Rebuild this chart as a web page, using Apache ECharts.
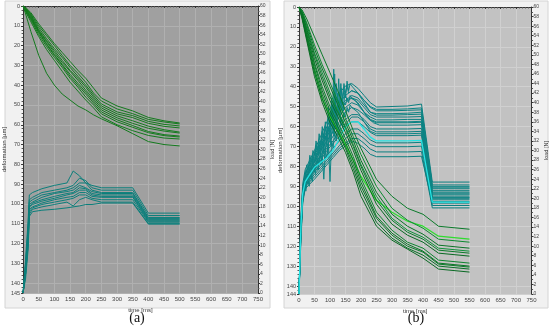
<!DOCTYPE html>
<html><head><meta charset="utf-8">
<script src="https://cdn.jsdelivr.net/npm/echarts@6/dist/echarts.min.js"></script>
<style>html,body{margin:0;padding:0;background:#fff}#c{width:550px;height:326px}</style>
</head><body><div id="c"></div>
<script>
// ---------- Panel (a) ----------
const A_TIME_DEF = [0,10,25,50,75,100,125,150,175,200,225,250,300,350,400,450,500];
const A_DEF = [
[0,1,3.4,9,14,19,23.5,28,32.5,36.5,41.5,46.5,50.5,53,56.3,58,59.1],
[0,1.5,4,10,15,20,25,30,34,38.5,44,48,52,54.4,57.3,58.6,59.6],
[0,1.5,4.5,11,16.5,21.5,26,31,35.5,40,45,49.5,53.5,55.4,58.3,59.8,60.6],
[0,2,5,12,17.5,22.5,27.5,32.5,36.5,41,46,50.5,54.5,56.4,59.3,60.8,61.6],
[0,2,5.5,12.5,18,23.5,28.5,33,37.5,42.5,47,51.5,55.5,58,60.7,62.5,63.7],
[0,2.5,6,13,19,24.5,29.5,34.5,39,43.5,48,52.5,56.5,59.3,61.8,63.2,64.2],
[0,2.5,6.5,13.5,19.5,25,30,35.5,40,44.5,49,53.5,57.5,60.4,63.4,65,65.7],
[0,3,7,14.5,20.5,26,31,36.5,41,46,50,54.5,58.5,61.3,64,65.5,66.2],
[0,3.5,8,15.5,22,27.5,33,38.5,43,47.5,51.5,56,60,63,65.4,66.7,67.2],
[0,5,13,25,34,40,44.5,47.5,50.5,52.5,55,57,60.5,64.5,68.5,70,70.7]
];
const A_TIME_F = [0,8,16,20,30,60,100,140,160,180,200,220,250,350,400,500];
const A_FORCE = [
[0,7,15,20.5,21,21.8,22.5,23,25.5,24.5,23,22.5,22,22,16.7,16.7],
[0,6,14,19.5,20,21,21.5,22,22.5,24,23.5,22,21.5,21.5,16.2,16.2],
[0,6,13,19,19.5,20.5,21,21.5,22,23,23,21.5,21,21,15.8,15.8],
[0,5,12,18.5,19,20,20.8,21.2,21.5,22.5,22,21.2,20.8,20.8,15.6,15.6],
[0,5,12,18,18.8,19.5,20.2,20.8,21,22,21.8,20.8,20.5,20.5,15.4,15.4],
[0,5,11,18,18.5,19.2,19.8,20.5,20.8,21.5,21.5,20.5,20.2,20.2,15.2,15.2],
[0,4,11,17.5,18,18.8,19.5,20,20.2,21,21,20.2,20,20,15,15],
[0,4,10,17,17.8,18.5,19,19.5,19.8,20.5,20.5,19.8,19.5,19.5,14.8,14.8],
[0,4,10,16.5,17.5,18,18.5,19,18.2,19.5,20,19.5,19,19,14.5,14.5],
[0,3,9,16,17,17.3,17.5,17.8,18,18.2,18.5,18.5,18.8,18.8,14.4,14.4]
];
// ---------- Panel (b) ----------
const B_TIME_DEF = [0,10,25,50,75,100,125,150,175,200,250,300,350,400,450,550];
const B_DEF = [
[0,1.5,6,15,24,33,42,52,62,71,86.5,95,101,104,110,111.5],
[0,5,15,32,46,55,62,69,77,85,97,103,107.5,110,115,116.5],
[0,2,8,19,29,38,47,56,65,74,90,101,107,111,116.5,118],
[0,2.5,9,21,31,40,49,58,67,77,93,104,110,114,119.5,121],
[0,3,10,23,33,43,52,60,69,79,95,106,112,115.5,121,122.5],
[0,3,11,24,35,45,53,61,70,80,97,107,113,116.5,122,123.5],
[0,3.5,12,26,37,47,55,63,72,82,99,109,114.5,118,123.5,125],
[0,4,13,28,40,50,58,66,75,86,103,112,118,121,127,128.5],
[0,4,14,29,42,52,60,68,77,88,105,113.5,119,122.5,128.5,130],
[0,4.5,15,31,44,54,62,70,79,90,106,114.5,120,123,129,130.5],
[0,5,16,33,46,56,63,71,81,92,108,116,121,124.5,130,131.5],
[0,6,17,35,48,58,65,73,83,95,110,117,121.5,126,131.5,133]
];
const B_DEF_COLORS = ['#0b7a2a','#2fdc2f','#0d8a30','#0a7326','#10903a','#0b7a2a','#086a22','#0e8530','#0a7326','#0b7a2a','#087028','#0a6a24'];
const B_TIME_F = [0,6,12,20,35,50,70,90,110,130,150,170,190,210,230,250,300,350,395,430,550];
const B_FORCE = [
[0,16,23,26,28,30,33,36,39,42,43.5,44,43,41.5,40,39.1,39.2,39.3,39.7,23.4,23.4],
[0,15,22,25,27.5,29.5,32,35,37.5,40,41.5,42.5,42,40.5,39,38.3,38.3,38.4,38.5,22.8,22.8],
[0,15,22,25,27,29,31.5,34,36.5,39,40.5,41.5,41,39.5,38,37.4,37.4,37.5,37.6,22.2,22.2],
[0,14,21.5,24.5,26.5,28.5,31,33.5,36,38,40,41,40.5,39,37.5,37,37,37,37.1,21.6,21.6],
[0,14,21,24,26,28,30.5,33,35,37,39,40,39.5,38,37,36.4,36.4,36.5,36.5,21.1,21.1],
[0,14,21,24,26,27.5,30,32,34,36,38,39,38.5,37.5,36.3,35.8,35.8,35.8,35.9,20.7,20.7],
[0,13,20.5,23.5,25.5,27,29,31,33,35,36.5,37.5,37.5,36.5,35,34.5,34.5,34.5,34.6,20.3,20.3],
[0,13,20.5,23.5,25,26.5,28.5,30.5,32,34,35.5,37,37,36,34.5,33.9,33.9,33.9,34,20,20],
[0,13,20,23,24.5,26,28,30,31.5,33,35,36,36,35,33.8,33.1,33.1,33.1,33.2,19.7,19.7],
[0,12,20,23,24.5,25.5,27,29,30.5,32,33.5,34.5,34.5,33.5,32.2,31.6,31.6,31.6,31.7,19.3,19.3],
[0,12,19.5,22.5,24,25,26.5,28,29.5,31,32.5,33.5,33.5,32.5,31.3,30.8,30.8,30.8,30.9,18.5,18.5],
[0,12,19.5,22.5,23.5,24.5,26,27.5,29,30.5,31.5,32.5,32.5,31.5,30.3,29.7,29.7,29.7,29.8,18,18],
[0,11,19,22,23,24,25.5,27,28.5,30,31,32,31.5,30.5,29.2,28.7,28.7,28.7,28.8,19,19]
];
const B_FORCE_CYAN = [0,14,21,23.5,25,26.5,27.5,28.5,30,32.5,35,36,36,34.5,32.8,32,32,32,32.1,19.2,19.2];
// noisy force records (time, force) read from the jagged region
const B_NOISE = [
[[0,0],[6,14],[12,21],[20,25],[25,27],[30,26],[35,29],[40,27.5],[45,30],[50,29],[55,32],[60,30],[65,33.5],[70,31],[75,35],[80,32.5],[85,36],[90,33],[95,39],[100,34.5],[105,41],[110,36],[115,46],[120,37],[125,42],[130,38.5],[135,44],[140,39.5],[145,43],[150,41],[155,44.5],[160,42.5],[165,44],[170,43.5],[190,42],[210,40.5],[230,39.2],[250,38.6],[300,38.6],[350,38.7],[395,38.9],[430,22.5],[550,22.5]],
[[0,0],[6,14],[12,21],[20,23],[25,25],[30,24],[35,26.5],[40,25],[45,28],[50,26],[55,29.5],[60,27.5],[65,31],[70,28.5],[75,32],[80,29.5],[85,33],[90,31],[95,35],[100,32],[105,38],[110,33.5],[115,39],[120,35],[125,40.5],[130,37],[135,41],[140,38],[145,40],[150,39.5],[155,41],[160,40],[165,41.5],[170,41],[190,40],[210,38],[230,36.5],[250,36],[300,36],[350,36],[395,36.1],[430,21.3],[550,21.3]],
[[0,0],[6,14],[12,21],[20,22],[25,23.5],[30,23],[35,25],[40,24],[45,26.5],[50,25.5],[55,27],[60,26],[65,28.5],[70,27],[75,29],[80,24],[85,30],[90,28.5],[95,31.5],[100,23.5],[105,32],[110,30.5],[115,34],[120,32],[125,35.5],[130,33],[135,37],[140,35],[145,38],[150,37],[155,39],[160,38],[165,39.5],[170,39],[190,38],[210,36],[230,34],[250,33.5],[300,33.5],[350,33.5],[395,33.6],[430,20.2],[550,20.2]],
[[0,0],[6,14],[12,21],[20,24],[25,26],[30,25],[35,28],[40,26],[45,29],[50,27.5],[55,31],[60,29],[65,32],[70,30],[75,34],[80,31],[85,35],[90,32.5],[95,37],[100,35],[105,40],[108,36],[112,47],[116,38],[120,44],[124,39],[128,45],[132,40],[136,43],[140,41],[145,44],[150,42],[155,43.5],[160,42],[170,42.5],[190,42],[210,40],[230,38],[250,37.7],[300,37.7],[350,37.8],[395,38],[430,22],[550,22]],
[[0,0],[6,13],[12,20],[18,23],[22,21.5],[28,24],[33,22.5],[38,25.5],[43,23.5],[48,27],[53,25],[58,28.5],[63,26],[68,30],[73,27.5],[78,31.5],[83,28],[88,33],[93,29.5],[98,34.5],[103,31],[108,37],[113,33],[118,38.5],[123,35],[128,40],[133,36.5],[138,41],[143,38.5],[148,42],[155,40.5],[165,41],[180,40.5],[200,39],[220,37],[240,35.8],[260,35.3],[300,35.3],[350,35.3],[395,35.4],[430,20.9],[550,20.9]]
];

const X_NAME = 'time [ms]';
const Y_LEFT_NAME = 'deformation [µm]';
const Y_RIGHT_NAME = 'load [N]';

function pairs(times, vals){ return times.map((t,i)=>[t, vals[i]]); }

const axisColor = '#333';
function xAx(gi, gridc){
  return {gridIndex:gi,type:'value',min:0,max:750,interval:50,
    name:X_NAME,nameLocation:'middle',nameGap:9,nameTextStyle:{fontSize:6,color:'#333'},
    axisLine:{lineStyle:{color:axisColor,width:1}},
    axisTick:{length:2,lineStyle:{color:axisColor}},
    minorTick:{show:true,splitNumber:5,length:1.5,lineStyle:{color:'#555'}},
    axisLabel:{fontSize:6,color:'#444',margin:3},
    splitLine:{show:true,lineStyle:{color:gridc,width:1}}};
}
function yLeft(gi, max, gridc){
  return {gridIndex:gi,type:'value',position:'left',inverse:true,min:0,max:max,interval:10,
    name:Y_LEFT_NAME,nameLocation:'middle',nameGap:11,nameTextStyle:{fontSize:6,color:'#333'},
    axisLine:{show:true,lineStyle:{color:axisColor,width:1}},
    axisTick:{show:true,length:2,lineStyle:{color:axisColor}},
    minorTick:{show:true,splitNumber:5,length:1.5,lineStyle:{color:'#555'}},
    axisLabel:{fontSize:5.5,color:'#444',margin:3},
    splitLine:{show:true,lineStyle:{color:gridc,width:1}}};
}
function yRight(gi){
  return {gridIndex:gi,type:'value',position:'right',min:0,max:60,interval:2,
    name:Y_RIGHT_NAME,nameLocation:'middle',nameGap:7,nameTextStyle:{fontSize:5.5,color:'#333'},
    axisLine:{show:true,lineStyle:{color:axisColor,width:1}},
    axisTick:{show:true,length:2,lineStyle:{color:axisColor}},
    minorTick:{show:true,splitNumber:2,length:1.5,lineStyle:{color:'#555'}},
    axisLabel:{fontSize:5,color:'#444',margin:2},
    splitLine:{show:false}};
}

const series = [];
function line(data, xi, yi, color, w){
  series.push({type:'line',xAxisIndex:xi,yAxisIndex:yi,data:data,symbol:'none',
    lineStyle:{color:color,width:w||1},silent:true,animation:false});
}
// panel a
A_FORCE.forEach(v=>line(pairs(A_TIME_F,v),0,1,'#0c7f7b'));
A_DEF.forEach(v=>line(pairs(A_TIME_DEF,v),0,0,'#147a1e'));
// panel b
B_FORCE.forEach(v=>line(pairs(B_TIME_F,v),1,3,'#0b7f80'));
B_NOISE.forEach(d=>line(d,1,3,'#0d8585'));
line(pairs(B_TIME_F,B_FORCE_CYAN),1,3,'#25e3e3',1.3);
B_DEF.forEach((v,i)=>line(pairs(B_TIME_DEF,v),1,2,B_DEF_COLORS[i], i===1?1.3:1));

const chart = echarts.init(document.getElementById('c'), null, {renderer:'canvas'});
chart.setOption({
  animation:false,
  backgroundColor:'#ffffff',
  graphic:[
    {type:'rect',z:-100,silent:true,shape:{x:5,y:1,width:265,height:307},style:{fill:'#f1f1f1',stroke:'#d4d4d4',lineWidth:1}},
    {type:'rect',z:-100,silent:true,shape:{x:284,y:1,width:264,height:307},style:{fill:'#f1f1f1',stroke:'#d4d4d4',lineWidth:1}},
    {type:'text',x:137,y:318,style:{text:'(a)',fontSize:14,fontFamily:'Liberation Serif',fill:'#111',align:'center',verticalAlign:'middle'}},
    {type:'text',x:416,y:318,style:{text:'(b)',fontSize:14,fontFamily:'Liberation Serif',fill:'#111',align:'center',verticalAlign:'middle'}}
  ],
  grid:[
    {left:22,top:6,width:236,height:287,show:true,backgroundColor:'#a0a0a0',borderWidth:0},
    {left:299,top:7,width:237,height:287,show:true,backgroundColor:'#c2c2c2',borderWidth:0}
  ],
  xAxis:[xAx(0,'#b0b0b0'), xAx(1,'#d0d0d0')],
  yAxis:[yLeft(0,145,'#b0b0b0'), yRight(0), yLeft(1,144,'#d0d0d0'), yRight(1)],
  series:series
});
</script></body></html>
